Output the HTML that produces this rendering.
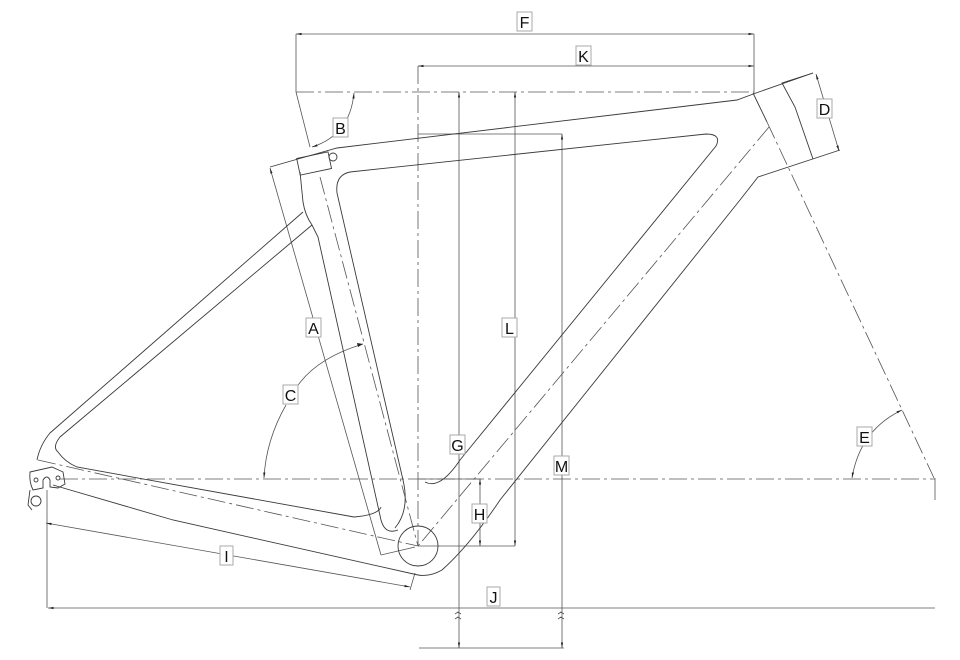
<!DOCTYPE html>
<html><head><meta charset="utf-8"><style>
html,body{margin:0;padding:0;background:#fff;}
svg{display:block}
.s{fill:none;stroke:#3a3a3a;stroke-width:0.9}
.t{fill:none;stroke:#555;stroke-width:0.8}
.d{fill:none;stroke:#555;stroke-width:0.8;stroke-dasharray:18 4 3 4}
.lb{fill:#fff;stroke:#aaa;stroke-width:1}
text{font-family:"Liberation Sans",sans-serif;font-size:16px;fill:#111;text-anchor:middle}
</style></head><body>
<svg width="960" height="660" viewBox="0 0 960 660" xmlns="http://www.w3.org/2000/svg">
<defs><marker id="a" viewBox="0 0 10 10" refX="10" refY="5" markerWidth="7" markerHeight="7" orient="auto-start-reverse"><path d="M0,3 L10,5 L0,7z" fill="#222"/></marker></defs>

<!-- F / K dims -->
<line class="t" x1="296" y1="34" x2="754" y2="34" marker-start="url(#a)" marker-end="url(#a)"/>
<line class="t" x1="418" y1="66" x2="754" y2="66" marker-start="url(#a)" marker-end="url(#a)"/>
<line class="t" x1="296" y1="34" x2="296" y2="92"/>
<line class="t" x1="754" y1="34" x2="754" y2="93"/>
<line class="d" x1="296" y1="92" x2="754" y2="92"/>
<line class="d" x1="418" y1="66" x2="418" y2="546"/>
<!-- B -->
<line class="t" x1="296" y1="92" x2="310" y2="147"/>
<path class="t" d="M354,93 Q350,135 312,147" marker-start="url(#a)" marker-end="url(#a)"/>

<!-- G, L, M verticals -->
<line class="t" x1="459" y1="92" x2="459" y2="648" marker-start="url(#a)" marker-end="url(#a)"/>
<line class="t" x1="515" y1="92" x2="515" y2="546" marker-start="url(#a)" marker-end="url(#a)"/>
<line class="t" x1="418" y1="134" x2="562" y2="134"/>
<line class="t" x1="562" y1="134" x2="562" y2="648" marker-start="url(#a)" marker-end="url(#a)"/>
<line class="t" x1="419" y1="648" x2="564" y2="648"/>
<g class="t"><path d="M455,614 l3,-2 l3,2 M455,619 l3,-2 l3,2 M558,614 l3,-2 l3,2 M558,619 l3,-2 l3,2"/></g>
<!-- H -->
<line class="t" x1="418" y1="546" x2="515" y2="546"/>
<line class="t" x1="419" y1="479" x2="481" y2="479"/>
<line class="t" x1="480" y1="479" x2="480" y2="546" marker-start="url(#a)" marker-end="url(#a)"/>

<!-- main horizontal axis -->
<line class="d" x1="60" y1="479" x2="935" y2="479"/>
<line class="t" x1="935" y1="478" x2="935" y2="500"/>

<!-- head tube -->
<path class="s" d="M270,167 L298,159 L337,148 L737,100 L756,93 L813,73"/>
<path class="s" d="M813,73 L782,83 L795,107 L813,159"/>
<path class="s" d="M840,150 L758,177 L740,200"/>
<line class="t" x1="816" y1="74" x2="839" y2="151" marker-start="url(#a)" marker-end="url(#a)"/>
<line class="s" x1="753" y1="93" x2="767" y2="122"/>
<line class="d" x1="767" y1="122" x2="934" y2="478"/>
<path class="t" d="M902,410 Q860,430 852,478" marker-start="url(#a)" marker-end="url(#a)"/>

<!-- top tube inner & down tube -->
<path class="s" d="M337,193 Q335,175 350,172 L706,134 Q722,134 716,146 L460,460 Q440,490 425,482"/>
<path class="s" d="M740,200 L500,500 Q470,545 442,570 Q430,577 418,575"/>
<line class="d" x1="769" y1="127" x2="418" y2="546"/>

<!-- seat tube -->
<rect class="s" x="298" y="155" width="32" height="17" transform="rotate(-12 314 163)"/>
<circle class="s" cx="333" cy="157" r="4"/>
<path class="s" d="M300,172 L303,202 Q305,215 312,225 L318,237 L381,520 Q385,535 398,530"/>
<path class="s" d="M337,193 L403,480 Q410,510 395,528"/>
<line class="d" x1="320" y1="177" x2="418" y2="546"/>
<line class="t" x1="270" y1="168" x2="381" y2="555" marker-start="url(#a)"/>
<line class="t" x1="381" y1="555" x2="415" y2="547"/>
<!-- C -->
<path class="t" d="M363,344 Q310,360 292,395"/>
<path class="t" d="M286,405 Q266,440 264,478" marker-end="url(#a)"/>
<path d="M363,344 l-6,-1 l1,4z" fill="#222"/>

<!-- BB -->
<circle class="s" cx="418" cy="546" r="20"/>

<!-- seatstays -->
<path class="s" d="M303,212 L50,433 Q40,445 37,460"/>
<path class="s" d="M312,225 L60,437 Q52,447 58,452 Q65,462 77,467 L354,517 Q378,515 381,507"/>
<!-- chainstay lower -->
<path class="s" d="M53,485 L173,520 L418,575"/>
<line class="d" x1="38" y1="460" x2="418" y2="546"/>
<!-- dropout -->
<path class="s" d="M30,472 L52,467 L63,472 L65,484 L58,488 L50,487 L50,480 Q47,474 43,480 L43,488 L33,490 Q29,482 30,472z"/>
<circle class="s" cx="36" cy="480" r="2"/><circle class="s" cx="58" cy="478" r="2"/>
<circle class="s" cx="36" cy="501" r="5"/>
<path class="s" d="M30,490 L28,505 L32,510"/>
<!-- I -->
<line class="t" x1="47" y1="490" x2="47" y2="608"/>
<line class="t" x1="46" y1="523" x2="410" y2="587" marker-start="url(#a)" marker-end="url(#a)"/>
<line class="t" x1="415" y1="573" x2="410" y2="590"/>
<!-- J -->
<line class="t" x1="48" y1="608" x2="935" y2="608" marker-start="url(#a)"/>

<!-- labels -->
<g>
<rect class="lb" x="517" y="12" width="15" height="19"/><text x="524.5" y="28">F</text>
<rect class="lb" x="576" y="46" width="15" height="19"/><text x="583.5" y="62">K</text>
<rect class="lb" x="333" y="118" width="15" height="19"/><text x="340.5" y="134">B</text>
<rect class="lb" x="817" y="99" width="15" height="19"/><text x="824.5" y="115">D</text>
<rect class="lb" x="306" y="318" width="15" height="19"/><text x="313.5" y="334">A</text>
<rect class="lb" x="502" y="318" width="15" height="19"/><text x="509.5" y="334">L</text>
<rect class="lb" x="283" y="385" width="15" height="19"/><text x="290.5" y="401">C</text>
<rect class="lb" x="857" y="427" width="15" height="19"/><text x="864.5" y="443">E</text>
<rect class="lb" x="450" y="435" width="15" height="19"/><text x="457.5" y="451">G</text>
<rect class="lb" x="554" y="456" width="15" height="19"/><text x="561.5" y="472">M</text>
<rect class="lb" x="472" y="504" width="15" height="19"/><text x="479.5" y="520">H</text>
<rect class="lb" x="220" y="546" width="13" height="19"/><text x="226.5" y="562">I</text>
<rect class="lb" x="487" y="587" width="13" height="19"/><text x="493.5" y="603">J</text>
</g>
</svg>
</body></html>
